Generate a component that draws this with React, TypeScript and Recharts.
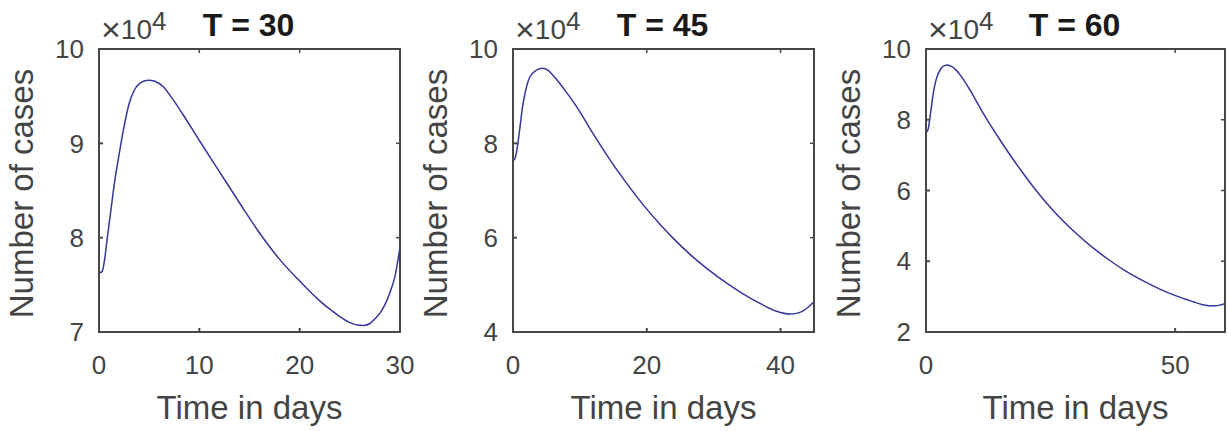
import React from 'react';
import { LineChart, Line, XAxis, YAxis, ReferenceArea } from 'recharts';

// ---------- data ----------
const daysT30 = [0, 0.2, 0.4, 0.6, 0.83, 1.1, 1.5, 2.0, 2.5, 3.0, 3.5, 4.0, 4.5, 5.0, 5.5, 6.4, 7.4, 8.4, 10, 12, 14, 16, 18, 20, 22, 23.4, 25, 25.7, 26.4, 27.0, 27.5, 28.0, 28.5, 29.0, 29.5, 30];
const casesT30 = [76400, 76300, 76700, 78000, 80000, 82200, 85500, 88800, 91800, 94200, 95600, 96300, 96600, 96700, 96600, 96000, 94600, 93000, 90300, 87000, 83700, 80500, 77700, 75400, 73300, 72100, 71000, 70750, 70700, 70900, 71400, 72000, 72900, 74200, 75900, 79000];

const daysT45 = [0, 0.3, 0.6, 1.05, 1.4, 1.8, 2.5, 3.5, 4.4, 5.2, 6, 7, 8, 9.5, 12, 14.5, 17, 19.5, 22, 24, 26.5, 29.4, 32, 34.4, 37, 39.4, 41.4, 42.5, 43.5, 45];
const casesT45 = [76300, 76800, 78800, 83500, 87500, 90600, 94000, 95500, 95900, 95500, 94400, 92700, 90800, 87800, 82000, 76500, 71500, 66900, 62800, 59800, 56400, 53000, 50300, 48100, 46000, 44400, 43800, 44000, 44600, 46400];

const daysT60 = [0, 0.4, 1.0, 1.5, 2.0, 3.0, 3.7, 4.35, 5.2, 6.0, 7.0, 8.0, 9.0, 10.0, 11.2, 12.4, 14.9, 16.7, 18.9, 22.1, 25.6, 30.1, 33.4, 37.1, 40.1, 43.5, 46.8, 50.2, 53.5, 55.5, 56.7, 58.0, 59.0, 60];
const casesT60 = [76400, 77200, 82800, 87800, 91200, 94500, 95300, 95500, 95000, 94100, 92400, 90300, 88000, 85500, 82500, 79700, 74200, 70400, 66000, 60000, 54200, 47900, 43900, 40000, 37200, 34500, 32200, 30200, 28600, 27700, 27450, 27400, 27600, 28000];

const xTicksT30 = [0, 10, 20, 30];
const xTicksT45 = [0, 20, 40];
const xTicksT60 = [0, 50];
const yTicksT30 = [70000, 80000, 90000, 100000];
const yTicksT45 = [40000, 60000, 80000, 100000];
const yTicksT60 = [20000, 40000, 60000, 80000, 100000];

const titles = ['T = 30', 'T = 45', 'T = 60'];
const xLabel = 'Time in days';
const yLabel = 'Number of cases';

// ---------- styling / layout ----------
const FONT = '"Liberation Sans", Arial, Helvetica, sans-serif';
const AXIS = '#474747';
const TEXT = '#444444';
const LINE = '#36369a';
const PL = 100; // local plot left
const PT = 49; // plot top
const PB = 332; // plot bottom
const H = 431;
const EXTRA_R = 30;
const TICK_LEN = 4;

type Cfg = {
  title: string;
  days: number[];
  cases: number[];
  xTicks: number[];
  yTicks: number[];
  xMax: number;
  yMin: number;
  plotLeft: number;
  plotWidth: number;
};

const panels: Cfg[] = [
  { title: titles[0], days: daysT30, cases: casesT30, xTicks: xTicksT30, yTicks: yTicksT30, xMax: 30, yMin: 70000, plotLeft: 99, plotWidth: 301 },
  { title: titles[1], days: daysT45, cases: casesT45, xTicks: xTicksT45, yTicks: yTicksT45, xMax: 45, yMin: 40000, plotLeft: 513, plotWidth: 301 },
  { title: titles[2], days: daysT60, cases: casesT60, xTicks: xTicksT60, yTicks: yTicksT60, xMax: 60, yMin: 20000, plotLeft: 926, plotWidth: 299 },
];

const tickStyle = { fill: TEXT, fontSize: 26, fontFamily: FONT };

function Panel({ cfg }: { cfg: Cfg }) {
  const data = cfg.days.map((d, i) => ({ day: d, cases: cfg.cases[i] }));
  const width = PL + cfg.plotWidth + 5 + EXTRA_R;
  const cx = PL + cfg.plotWidth / 2;
  const pr = PL + cfg.plotWidth;

  const TopTick = (p: any) => (
    <line x1={p.x} x2={p.x} y1={PT} y2={PT + TICK_LEN} stroke={AXIS} strokeWidth={1.5} />
  );
  const RightTick = (p: any) => (
    <line x1={pr - TICK_LEN} x2={pr} y1={p.y} y2={p.y} stroke={AXIS} strokeWidth={1.5} />
  );

  const TopLabel = () => (
    <g>
      <text x={PL + 2} y={39} fontFamily={FONT} fill={TEXT}>
        <tspan fontSize={34} dy={2}>×</tspan>
        <tspan fontSize={28} dy={-2}>10</tspan>
        <tspan fontSize={26} dy={-9}>4</tspan>
      </text>
      <text x={cx - 1} y={36} textAnchor="middle" fontSize={32} fontWeight="bold" fontFamily={FONT} fill="#1a1a1a">
        {cfg.title}
      </text>
    </g>
  );
  const BottomLabel = () => (
    <text x={cx} y={PB + 87} textAnchor="middle" fontSize={33} fontFamily={FONT} fill={TEXT}>
      {xLabel}
    </text>
  );
  const LeftLabel = () => {
    const lx = PL - 66;
    const ly = (PT + PB) / 2 + 3;
    return (
      <text x={lx} y={ly} transform={`rotate(-90 ${lx} ${ly})`} textAnchor="middle" fontSize={33} fontFamily={FONT} fill={TEXT}>
        {yLabel}
      </text>
    );
  };

  return (
    <div style={{ position: 'absolute', left: cfg.plotLeft - PL, top: 0, width, height: H }}>
      <LineChart width={width} height={H} data={data} margin={{ top: 39, right: EXTRA_R, bottom: 0, left: 40 }}>
        <XAxis
          xAxisId="bottom"
          dataKey="day"
          type="number"
          domain={[0, cfg.xMax]}
          ticks={cfg.xTicks}
          interval={0}
          allowDataOverflow
          height={99}
          tickSize={-TICK_LEN}
          tickMargin={28}
          stroke={AXIS}
          strokeWidth={2}
          tick={tickStyle}
          label={{ content: BottomLabel }}
        />
        <XAxis
          xAxisId="top"
          orientation="top"
          dataKey="day"
          type="number"
          domain={[0, cfg.xMax]}
          ticks={cfg.xTicks}
          interval={0}
          allowDataOverflow
          height={10}
          tickLine={false}
          axisLine={false}
          tick={TopTick}
          label={{ content: TopLabel }}
        />
        <YAxis
          yAxisId="left"
          type="number"
          domain={[cfg.yMin, 100000]}
          ticks={cfg.yTicks}
          interval={0}
          allowDataOverflow
          width={60}
          tickSize={-TICK_LEN}
          tickMargin={19}
          stroke={AXIS}
          strokeWidth={2}
          tick={tickStyle}
          tickFormatter={(v: number) => String(v / 10000)}
          label={{ content: LeftLabel }}
        />
        <YAxis
          yAxisId="right"
          orientation="right"
          type="number"
          domain={[cfg.yMin, 100000]}
          ticks={cfg.yTicks}
          interval={0}
          allowDataOverflow
          width={5}
          tickLine={false}
          axisLine={false}
          tick={RightTick}
        />
        <ReferenceArea
          xAxisId="bottom"
          yAxisId="left"
          x1={0}
          x2={cfg.xMax}
          y1={cfg.yMin}
          y2={100000}
          fill="none"
          fillOpacity={0}
          stroke={AXIS}
          strokeWidth={2}
          strokeOpacity={1}
        />
        <Line
          xAxisId="top"
          yAxisId="right"
          dataKey="cases"
          stroke="none"
          dot={false}
          activeDot={false}
          isAnimationActive={false}
        />
        <Line
          xAxisId="bottom"
          yAxisId="left"
          type="monotone"
          dataKey="cases"
          stroke={LINE}
          strokeWidth={1.5}
          dot={false}
          activeDot={false}
          isAnimationActive={false}
        />
      </LineChart>
    </div>
  );
}

export default function App() {
  return (
    <div style={{ position: 'absolute', left: 0, top: 0, width: 1228, height: H, background: '#fff', overflow: 'hidden' }}>
      {panels.map((p) => (
        <Panel key={p.title} cfg={p} />
      ))}
    </div>
  );
}
